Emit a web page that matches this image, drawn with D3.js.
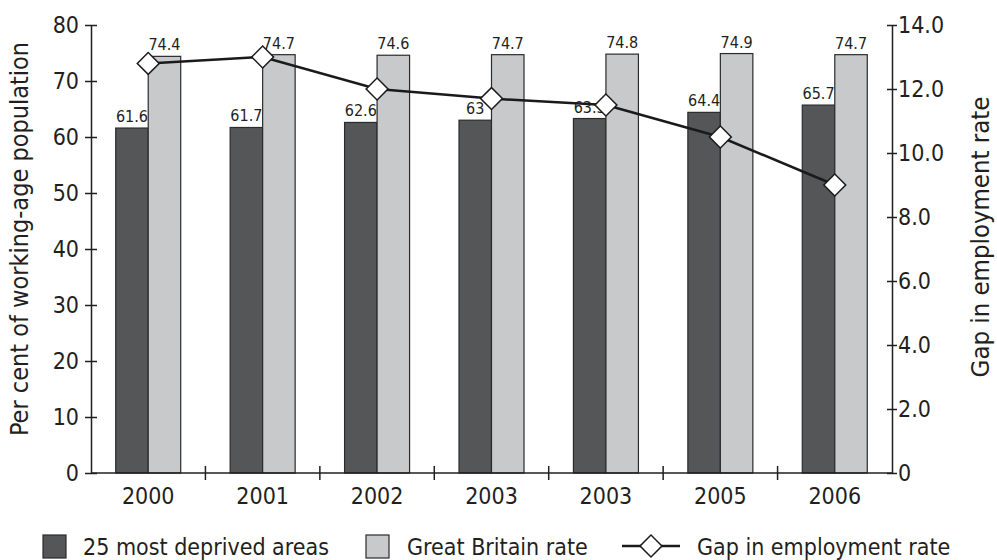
<!DOCTYPE html>
<html>
<head>
<meta charset="utf-8">
<script src="https://cdn.jsdelivr.net/npm/d3@7"></script>
<style>
  body { margin: 0; background: #fff; }
  svg text { font-family: "DejaVu Sans Condensed", "Liberation Sans", sans-serif; fill: #231f20; }
</style>
</head>
<body>
<div id="chart"></div>
<script>
// Categories (note: the source repeats "2003")
const years = ["2000", "2001", "2002", "2003", "2003", "2005", "2006"];
const deprived = [61.6, 61.7, 62.6, 63, 63.3, 64.4, 65.7];
const britain = [74.4, 74.7, 74.6, 74.7, 74.8, 74.9, 74.7];
const gap = [12.8, 13.0, 12.0, 11.7, 11.5, 10.5, 9.0];
const leftTicks = [0, 10, 20, 30, 40, 50, 60, 70, 80];
const rightTicks = [0, 2, 4, 6, 8, 10, 12, 14];

const COLORS = {
    dark: "#555658",
    light: "#c8c9cb",
    stroke: "#2b2b2d",
    axis: "#231f20"
};

const W = 997, H = 560;
const margin = { top: 25, right: 105, bottom: 87, left: 91 };
const width = W - margin.left - margin.right;
const height = H - margin.top - margin.bottom;

const svg = d3.select("#chart")
    .append("svg")
    .attr("width", W)
    .attr("height", H);

const g = svg.append("g")
    .attr("transform", `translate(${margin.left},${margin.top})`);

const x = d3.scaleBand()
    .domain(years.map((d, i) => i))
    .range([0, width])
    .padding(0);

const barW = x.bandwidth() * 0.284;

const y = d3.scaleLinear().domain([0, 80]).range([height, 0]);
const y2 = d3.scaleLinear().domain([0, 14]).range([height, 0]);

// Bars
const series = [
    { key: "deprived", values: deprived, color: COLORS.dark, offset: -1 },
    { key: "britain", values: britain, color: COLORS.light, offset: 0 }
];

series.forEach(s => {
    g.selectAll(".bar-" + s.key)
        .data(s.values)
        .join("rect")
        .attr("class", "bar-" + s.key)
        .attr("x", (d, i) => x(i) + x.bandwidth() / 2 + s.offset * barW)
        .attr("y", d => y(d))
        .attr("width", barW)
        .attr("height", d => height - y(d))
        .attr("fill", s.color)
        .attr("stroke", COLORS.stroke)
        .attr("stroke-width", 1.2);
});

// Value labels
series.forEach(s => {
    g.selectAll(".lbl-" + s.key)
        .data(s.values)
        .join("text")
        .attr("class", "lbl-" + s.key)
        .attr("x", (d, i) => x(i) + x.bandwidth() / 2 + s.offset * barW + barW / 2)
        .attr("y", d => y(d) - 6)
        .attr("text-anchor", "middle")
        .style("font-size", "16px")
        .text(d => d);
});

// Axes
const axisStyle = sel => {
    sel.select(".domain").attr("stroke", COLORS.axis).attr("stroke-width", 1.5);
    sel.selectAll(".tick line").attr("stroke", COLORS.axis).attr("stroke-width", 1.5);
    sel.selectAll(".tick text").style("font-size", "23px").attr("fill", COLORS.axis);
};

const yAxis = g.append("g")
    .call(d3.axisLeft(y).tickValues(leftTicks).tickSize(0).tickPadding(12));
yAxis.selectAll(".tick").append("line").attr("x1", -6).attr("x2", 6);
yAxis.call(axisStyle);

const y2Axis = g.append("g")
    .attr("transform", `translate(${width},0)`)
    .call(d3.axisRight(y2).tickValues(rightTicks).tickSize(0).tickPadding(6)
        .tickFormat(d => d === 0 ? "0" : d3.format(".1f")(d)));
y2Axis.selectAll(".tick").append("line").attr("x1", -5).attr("x2", 5);
y2Axis.call(axisStyle);

const xAxis = g.append("g")
    .attr("transform", `translate(0,${height})`)
    .call(d3.axisBottom(x).tickSize(0).tickPadding(15).tickFormat(i => years[i]));
xAxis.call(axisStyle);
xAxis.select(".domain").attr("d", `M0,0H${width}`);

// Separators between categories
g.selectAll(".sep")
    .data(years.slice(1).map((d, i) => i + 1))
    .join("line")
    .attr("class", "sep")
    .attr("x1", i => x(i))
    .attr("x2", i => x(i))
    .attr("y1", height - 7)
    .attr("y2", height + 7)
    .attr("stroke", COLORS.axis)
    .attr("stroke-width", 1.5);

// Gap line
const line = d3.line()
    .x((d, i) => x(i) + x.bandwidth() / 2)
    .y(d => y2(d));

g.append("path")
    .datum(gap)
    .attr("d", line)
    .attr("fill", "none")
    .attr("stroke", "#1a1a1a")
    .attr("stroke-width", 2.5);

const diamond = d3.symbol().type(d3.symbolSquare).size(240);

g.selectAll(".marker")
    .data(gap)
    .join("path")
    .attr("class", "marker")
    .attr("d", diamond)
    .attr("transform", (d, i) => `translate(${x(i) + x.bandwidth() / 2},${y2(d)}) rotate(45)`)
    .attr("fill", "#fff")
    .attr("stroke", "#1a1a1a")
    .attr("stroke-width", 1.5);

// Axis titles
svg.append("text")
    .attr("transform", `translate(28,${margin.top + height / 2 - 10}) rotate(-90)`)
    .attr("text-anchor", "middle")
    .style("font-size", "25px")
    .text("Per cent of working-age population");

svg.append("text")
    .attr("transform", `translate(989,${margin.top + height / 2 - 12}) rotate(-90)`)
    .attr("text-anchor", "middle")
    .style("font-size", "25.5px")
    .text("Gap in employment rate");

// Legend
const legend = svg.append("g").attr("transform", "translate(0,546)");

legend.append("rect")
    .attr("x", 43).attr("y", -11).attr("width", 23).attr("height", 23)
    .attr("fill", COLORS.dark).attr("stroke", COLORS.stroke).attr("stroke-width", 1.2);
legend.append("text").attr("x", 83).attr("y", 9).style("font-size", "23px")
    .text("25 most deprived areas");

legend.append("rect")
    .attr("x", 366).attr("y", -11).attr("width", 23).attr("height", 23)
    .attr("fill", COLORS.light).attr("stroke", COLORS.stroke).attr("stroke-width", 1.2);
legend.append("text").attr("x", 407).attr("y", 9).style("font-size", "23px")
    .text("Great Britain rate");

legend.append("line")
    .attr("x1", 622).attr("x2", 680).attr("y1", 0).attr("y2", 0)
    .attr("stroke", "#1a1a1a").attr("stroke-width", 2.5);
legend.append("path")
    .attr("d", diamond)
    .attr("transform", "translate(651,0) rotate(45)")
    .attr("fill", "#fff").attr("stroke", "#1a1a1a").attr("stroke-width", 1.5);
legend.append("text").attr("x", 697).attr("y", 9).style("font-size", "23px")
    .text("Gap in employment rate");
</script>
</body>
</html>
